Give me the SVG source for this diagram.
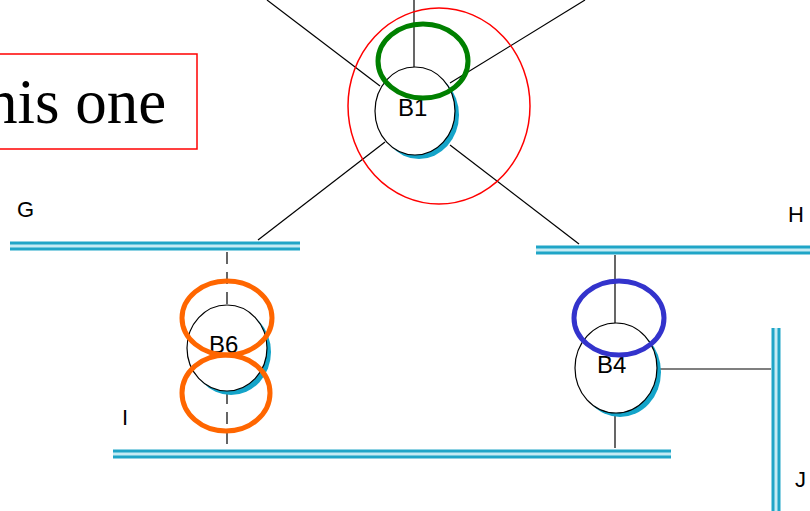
<svg xmlns="http://www.w3.org/2000/svg" width="810" height="511" viewBox="0 0 810 511">
  <style>
    .bar-out { stroke: #1fa5c7; stroke-width: 9; fill: none; }
    .bar-in { stroke: #c4ebf4; stroke-width: 3; fill: none; }
    .link { stroke: #000; stroke-width: 1.2; fill: none; }
    .dash { stroke: #000; stroke-width: 1.2; stroke-dasharray: 12 8; fill: none; }
    .node-shadow { fill: #14a4c9; }
    .node-body { fill: #fff; stroke: #000; stroke-width: 1.2; }
    .node-label { font-family: "Liberation Sans", Arial, sans-serif; font-size: 24px; fill: #000; }
    .seg-label { font-family: "Liberation Sans", Arial, sans-serif; font-size: 22px; fill: #000; }
    .mark { fill: none; stroke-width: 5; }
  </style>

  <!-- caption box -->
  <g id="caption">
    <rect x="-10" y="54" width="207" height="95" fill="#fff" stroke="#ff0000" stroke-width="1.5"/>
    <text x="-14" y="123" font-family="'Liberation Serif', 'Times New Roman', serif" font-size="63" fill="#000">his one</text>
  </g>

  <!-- connectors -->
  <g id="connectors">
    <line class="link" x1="414" y1="0" x2="414" y2="67"/>
    <line class="link" x1="267" y1="0" x2="380" y2="86"/>
    <line class="link" x1="585" y1="0" x2="450" y2="83"/>
    <line class="link" x1="385" y1="142" x2="258" y2="240"/>
    <line class="link" x1="450" y1="145" x2="579" y2="244"/>
    <line class="dash" x1="227" y1="252" x2="227" y2="450"/>
    <line class="link" x1="615" y1="255" x2="615" y2="323"/>
    <line class="link" x1="615" y1="413" x2="615" y2="448"/>
    <line class="link" x1="658" y1="369" x2="771" y2="369"/>
  </g>

  <!-- LAN segments -->
  <g id="seg-G">
    <line class="bar-out" x1="10" y1="246" x2="300" y2="246"/>
    <line class="bar-in" x1="10" y1="246" x2="300" y2="246"/>
    <text class="seg-label" x="17" y="217">G</text>
  </g>
  <g id="seg-H">
    <line class="bar-out" x1="536" y1="250" x2="810" y2="250"/>
    <line class="bar-in" x1="536" y1="250" x2="810" y2="250"/>
    <text class="seg-label" x="788" y="222">H</text>
  </g>
  <g id="seg-I">
    <line class="bar-out" x1="113" y1="454" x2="671" y2="454"/>
    <line class="bar-in" x1="113" y1="454" x2="671" y2="454"/>
    <text class="seg-label" x="122" y="425">I</text>
  </g>
  <g id="seg-J">
    <line class="bar-out" x1="776" y1="328" x2="776" y2="511"/>
    <line class="bar-in" x1="776" y1="328" x2="776" y2="511"/>
    <text class="seg-label" x="795" y="487">J</text>
  </g>

  <!-- bridges -->
  <g id="B1">
    <ellipse class="node-shadow" cx="419" cy="115" rx="40" ry="44"/>
    <ellipse class="node-body" cx="415" cy="111" rx="40" ry="44"/>
    <text class="node-label" x="398" y="116">B1</text>
  </g>
  <g id="B6">
    <ellipse class="node-shadow" cx="231" cy="352" rx="40" ry="43"/>
    <ellipse class="node-body" cx="227" cy="348" rx="40" ry="43"/>
    <text class="node-label" x="209" y="353">B6</text>
  </g>
  <g id="B4">
    <ellipse class="node-shadow" cx="620" cy="372" rx="41" ry="45"/>
    <ellipse class="node-body" cx="616" cy="368" rx="41" ry="45"/>
    <text class="node-label" x="597" y="373">B4</text>
  </g>

  <!-- highlight rings -->
  <g id="ring-red">
    <ellipse cx="439" cy="106" rx="91" ry="98" fill="none" stroke="#ff0000" stroke-width="1.5"/>
  </g>
  <g id="ring-green">
    <ellipse class="mark" cx="423" cy="61" rx="45" ry="37" stroke="#008000"/>
  </g>
  <g id="ring-orange-top">
    <ellipse class="mark" cx="227" cy="318" rx="45" ry="37" stroke="#ff6600"/>
  </g>
  <g id="ring-orange-bottom">
    <ellipse class="mark" cx="226" cy="393" rx="44" ry="38" stroke="#ff6600"/>
  </g>
  <g id="ring-blue">
    <ellipse class="mark" cx="619" cy="318" rx="45" ry="37" stroke="#3333cc"/>
  </g>
</svg>
